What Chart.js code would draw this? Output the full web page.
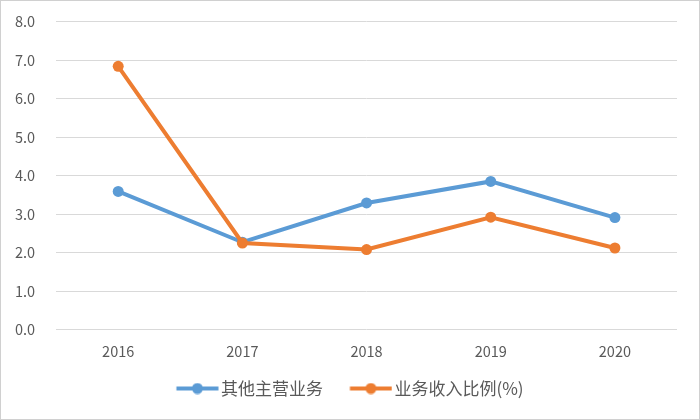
<!DOCTYPE html>
<html>
<head>
<meta charset="utf-8">
<script src="https://cdn.jsdelivr.net/npm/chart.js@4/dist/chart.umd.min.js"></script>
<style>
  html, body { margin: 0; padding: 0; background: #fff; }
  #wrap { width: 698px; height: 418px; border: 1px solid #d0d0d0; position: relative; }
</style>
</head>
<body>
<div id="wrap"><canvas id="myChart"></canvas></div>
<script>
// data
const years = ["2016", "2017", "2018", "2019", "2020"];
const otherBiz = [3.59, 2.27, 3.29, 3.85, 2.91];
const bizRatio = [6.84, 2.25, 2.08, 2.92, 2.12];
const yTicks = [0, 1, 2, 3, 4, 5, 6, 7, 8];

const blue = "#5B9BD5";
const orange = "#ED7D31";

// legend icon: line with a dot in the middle
// canvas is wider than the legend box so the line ends right before the text
function legendIcon(color) {
  const c = document.createElement("canvas");
  c.width = 69;
  c.height = 12;
  const g = c.getContext("2d");
  g.strokeStyle = color;
  g.lineWidth = 4;
  g.beginPath();
  g.moveTo(26.5, 6);
  g.lineTo(68.5, 6);
  g.stroke();
  g.fillStyle = color;
  g.beginPath();
  g.arc(47.5, 6, 5.5, 0, Math.PI * 2);
  g.fill();
  return c;
}
const icons = [legendIcon(blue), legendIcon(orange)];

const font = "'Noto Sans CJK SC', 'Noto Sans', sans-serif";

let lineChart = new Chart(document.getElementById("myChart").getContext("2d"), {
  type: "line",
  data: {
    labels: years,
    datasets: [
      {
        label: "其他主营业务",
        data: otherBiz,
        borderColor: blue,
        backgroundColor: blue,
        borderWidth: 4,
        pointRadius: 5.5,
        pointBorderWidth: 0,
        order: 1,
      },
      {
        label: "业务收入比例(%)",
        data: bizRatio,
        borderColor: orange,
        backgroundColor: orange,
        borderWidth: 4,
        pointRadius: 5.5,
        pointBorderWidth: 0,
        order: 0,
      },
    ],
  },
  options: {
    responsive: true,
    maintainAspectRatio: false,
    animation: false,
    elements: { point: { pointStyle: "circle" }, line: { tension: 0 } },
    layout: { padding: { top: 4, left: 2, right: 22, bottom: 12 } },
    scales: {
      x: {
        offset: true,
        grid: { display: false, drawTicks: false },
        border: { display: false },
        ticks: { color: "#595959", font: { family: font, size: 14.5 }, padding: 13 },
      },
      y: {
        min: 0,
        max: 8,
        afterBuildTicks: (axis) => {
          axis.ticks = yTicks.map((v) => ({ value: v }));
        },
        grid: { color: "#d9d9d9", lineWidth: 1, drawTicks: true, tickLength: 9, tickColor: "rgba(0,0,0,0)" },
        border: { display: false },
        ticks: {
          color: "#595959",
          font: { family: font, size: 14.5 },
          padding: 12,
          callback: (v) => Number(v).toFixed(1),
        },
      },
    },
    plugins: {
      tooltip: { enabled: false },
      legend: {
        position: "bottom",
        labels: {
          usePointStyle: true,
          pointStyleWidth: 56,
          color: "#595959",
          font: { family: font, size: 17 },
          padding: 7,
          generateLabels: (chart) => {
            const items = Chart.defaults.plugins.legend.labels.generateLabels(chart);
            items.sort((a, b) => a.datasetIndex - b.datasetIndex);
            items.forEach((it) => { it.pointStyle = icons[it.datasetIndex]; });
            return items;
          },
        },
      },
    },
  },
});
</script>
</body>
</html>
